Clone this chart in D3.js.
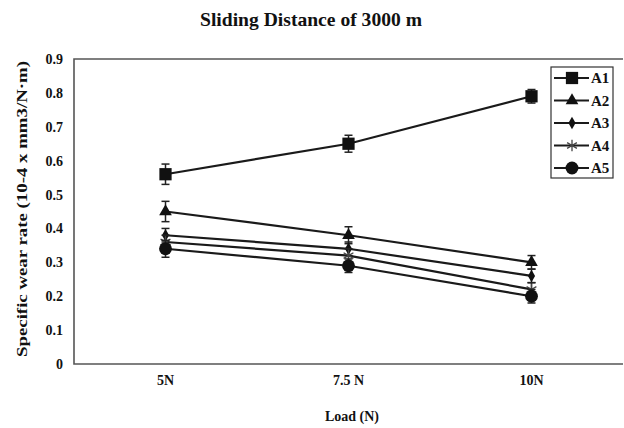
<!DOCTYPE html>
<html>
<head>
<meta charset="utf-8">
<script src="https://cdn.jsdelivr.net/npm/d3@7"></script>
<style>
  body { margin: 0; background: #fff; }
  svg text { font-family: "Liberation Serif", "DejaVu Serif", serif; font-weight: bold; fill: #111; }
</style>
</head>
<body>
<svg id="chart" width="624" height="428"></svg>
<script>
// data
var loads = ["5N", "7.5 N", "10N"];
var seriesNames = ["A1", "A2", "A3", "A4", "A5"];
var A1 = [0.56, 0.65, 0.79];
var A2 = [0.45, 0.38, 0.30];
var A3 = [0.38, 0.34, 0.26];
var A4 = [0.36, 0.32, 0.22];
var A5 = [0.34, 0.29, 0.20];
var A1err = [0.03, 0.025, 0.02];
var A2err = [0.03, 0.025, 0.02];
var A3err = [0.02, 0.02, 0.02];
var A4err = [0.02, 0.02, 0.02];
var A5err = [0.025, 0.02, 0.02];
var yTicks = [0, 0.1, 0.2, 0.3, 0.4, 0.5, 0.6, 0.7, 0.8, 0.9];

var symbolNames = ["square", "triangle", "diamond", "star", "circle"];
var series = seriesNames.map(function(n, i) {
  return {name: n, values: [A1, A2, A3, A4, A5][i],
          err: [A1err, A2err, A3err, A4err, A5err][i], sym: symbolNames[i]};
});

var svg = d3.select("#chart");
var plotLeft = 74, plotTop = 59, plotRight = 623, plotBottom = 364;

var x = d3.scaleBand().domain(loads).range([plotLeft, plotRight]);
var y = d3.scaleLinear().domain([0, 0.9]).range([plotBottom, plotTop]);

// title
svg.append("text")
  .attr("x", 311).attr("y", 26)
  .attr("text-anchor", "middle")
  .attr("font-size", "19px")
  .attr("textLength", 222)
  .attr("lengthAdjust", "spacingAndGlyphs")
  .text("Sliding Distance of 3000 m");

// frame
svg.append("path")
  .attr("d", "M" + plotRight + "," + plotTop + "H" + plotLeft + "V" + plotBottom + "H" + plotRight)
  .attr("fill", "none")
  .attr("stroke", "#555")
  .attr("stroke-width", 1.6);

// y tick labels
svg.append("g").selectAll("text")
  .data(yTicks)
  .enter().append("text")
  .attr("x", 63)
  .attr("y", function(d) { return y(d) + 5; })
  .attr("text-anchor", "end")
  .attr("font-size", "14px")
  .text(function(d) { return d === 0 ? "0" : d3.format(".1f")(d); });

// x tick labels
svg.append("g").selectAll("text")
  .data(loads)
  .enter().append("text")
  .attr("x", function(d) { return x(d) + x.bandwidth() / 2; })
  .attr("y", 385)
  .attr("text-anchor", "middle")
  .attr("font-size", "14px")
  .text(function(d) { return d; });

// axis titles
svg.append("text")
  .attr("x", 352).attr("y", 421)
  .attr("text-anchor", "middle")
  .attr("font-size", "14px")
  .text("Load (N)");

svg.append("text")
  .attr("transform", "translate(27,209) rotate(-90)")
  .attr("text-anchor", "middle")
  .attr("font-size", "15px")
  .attr("textLength", 296)
  .attr("lengthAdjust", "spacingAndGlyphs")
  .text("Specific wear rate (10-4 x mm3/N\u00b7m)");

var cx = function(i) { return x(loads[i]) + x.bandwidth() / 2; };

var symbols = {
  square: d3.symbol().type(d3.symbolSquare).size(150),
  triangle: d3.symbol().type(d3.symbolTriangle).size(70),
  diamond: d3.symbol().type(d3.symbolDiamond).size(45),
  star: d3.symbol().type(d3.symbolAsterisk).size(90),
  circle: d3.symbol().type(d3.symbolCircle).size(130)
};

function drawMarker(g, sym) {
  if (sym === "star") {
    g.append("path").attr("d", symbols.star())
      .attr("fill", "none").attr("stroke", "#444").attr("stroke-width", 1.3);
  } else {
    g.append("path").attr("d", symbols[sym]()).attr("fill", "#111");
  }
}

var line = d3.line()
  .x(function(d, i) { return cx(i); })
  .y(function(d) { return y(d); });

series.forEach(function(s) {
  var g = svg.append("g");
  g.append("path")
    .datum(s.values)
    .attr("d", line)
    .attr("fill", "none")
    .attr("stroke", "#1a1a1a")
    .attr("stroke-width", 2.2);

  // error bars
  s.values.forEach(function(v, i) {
    var e = s.err[i], xx = cx(i);
    var eb = g.append("g").attr("stroke", "#222").attr("stroke-width", 1.5);
    eb.append("line").attr("x1", xx).attr("x2", xx).attr("y1", y(v - e)).attr("y2", y(v + e));
    eb.append("line").attr("x1", xx - 4).attr("x2", xx + 4).attr("y1", y(v - e)).attr("y2", y(v - e));
    eb.append("line").attr("x1", xx - 4).attr("x2", xx + 4).attr("y1", y(v + e)).attr("y2", y(v + e));
    var m = g.append("g").attr("transform", "translate(" + xx + "," + y(v) + ")");
    drawMarker(m, s.sym);
  });
});

// legend
var leg = svg.append("g");
leg.append("rect")
  .attr("x", 551).attr("y", 67).attr("width", 62).attr("height", 111)
  .attr("fill", "#fff").attr("stroke", "#333").attr("stroke-width", 1.2);

series.forEach(function(s, i) {
  var ly = 78 + i * 22.5;
  leg.append("line")
    .attr("x1", 554).attr("x2", 589).attr("y1", ly).attr("y2", ly)
    .attr("stroke", "#1a1a1a").attr("stroke-width", 2);
  var m = leg.append("g").attr("transform", "translate(572," + ly + ")");
  drawMarker(m, s.sym);
  leg.append("text")
    .attr("x", 591).attr("y", ly + 5)
    .attr("font-size", "15px")
    .text(s.name);
});
</script>
</body>
</html>
